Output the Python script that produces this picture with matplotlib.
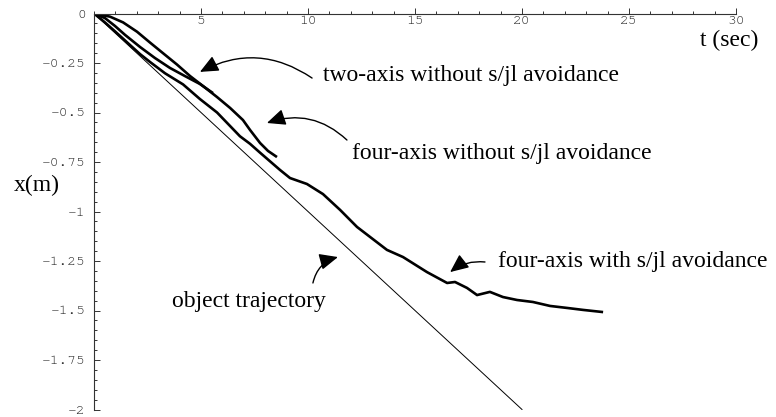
import numpy as np
import matplotlib.pyplot as plt
from matplotlib.ticker import MultipleLocator

plt.rcParams['font.family'] = ['TeX Gyre Cursor', 'Liberation Mono']

# traced data (t in sec, x in m)
t_obj = [0, 20]
x_obj = [0, -2]

t_two = [0, 0.51, 0.98, 1.45, 2.15, 2.85, 3.55, 4.25, 4.95, 5.56]
x_two = [0, -0.023, -0.063, -0.108, -0.169, -0.225, -0.275, -0.316, -0.356, -0.402]

t_four_wo = [0, 0.75, 1.36, 2.01, 2.62, 3.22, 3.88, 4.49, 5.09, 5.75, 6.36,
             6.96, 7.29, 7.76, 8.13, 8.55]
x_four_wo = [0, -0.016, -0.045, -0.092, -0.147, -0.200, -0.258, -0.316, -0.366,
             -0.422, -0.477, -0.538, -0.588, -0.654, -0.694, -0.725]

t_four_w = [0, 0.51, 0.98, 1.59, 2.15, 2.62, 3.32, 4.16, 4.95, 5.75, 6.82,
            7.29, 7.76, 8.69, 9.16, 9.95, 10.70, 11.50, 12.29, 13.69, 14.44,
            15.56, 16.50, 16.87, 17.43, 17.90, 18.50, 19.11, 19.77, 20.51,
            21.31, 22.10, 22.85, 23.79]
x_four_w = [0, -0.045, -0.090, -0.150, -0.205, -0.245, -0.302, -0.358, -0.432,
            -0.500, -0.620, -0.658, -0.703, -0.790, -0.831, -0.861, -0.912,
            -0.992, -1.078, -1.194, -1.230, -1.306, -1.361, -1.356, -1.386,
            -1.422, -1.406, -1.432, -1.447, -1.457, -1.477, -1.487, -1.497,
            -1.508]

yticks = [0, -0.25, -0.5, -0.75, -1, -1.25, -1.5, -1.75, -2]
ylabels = ['0', '-0.25', '-0.5', '-0.75', '-1', '-1.25', '-1.5', '-1.75', '-2']
xticks = [5, 10, 15, 20, 25, 30]
xlabels = ['5', '10', '15', '20', '25', '30']

W, H = 776, 417
fig = plt.figure(figsize=(W / 100, H / 100), dpi=100)
ax = fig.add_axes([94 / W, 1 - 409.5 / H, (736 - 94) / W, 396 / H])
ax.set_xlim(0, 30)
ax.set_ylim(-2, 0)

axcol = '#333333'
ax.plot(t_obj, x_obj, color='black', lw=0.7)
for tt, xx in [(t_two, x_two), (t_four_wo, x_four_wo), (t_four_w, x_four_w)]:
    ax.plot(tt, xx, color='black', lw=1.9, solid_joinstyle='round',
            solid_capstyle='butt')

for s in ['top', 'right']:
    ax.spines[s].set_visible(False)
ax.spines['bottom'].set_position(('data', 0))
ax.spines['left'].set_position(('data', 0))
for s in ['bottom', 'left']:
    ax.spines[s].set_color(axcol)
    ax.spines[s].set_linewidth(0.8)

ax.set_xticks(xticks)
ax.set_xticklabels(xlabels)
ax.set_yticks(yticks)
ax.set_yticklabels(ylabels)
ax.xaxis.set_minor_locator(MultipleLocator(1))
ax.yaxis.set_minor_locator(MultipleLocator(0.05))
ax.tick_params(which='both', direction='in', color=axcol, width=0.7,
               labelcolor='#222222', labelsize=10.5)
ax.tick_params(which='major', length=4)
ax.tick_params(which='minor', length=2.2)
ax.tick_params(axis='x', pad=2)
ax.tick_params(axis='y', pad=6)

serif = 'Liberation Serif'
fs = 17
fig.text(37 / W, 1 - 185 / H, 'x(m)', family=serif, fontsize=fs,
         ha='center', va='center')
fig.text(758 / W, 1 - 40 / H, 't (sec)', family=serif, fontsize=fs,
         ha='right', va='center')

labels = [
    ('two-axis without s/jl avoidance', (10.70, -0.311), (10.19, -0.326), (4.95, -0.295), 0.3),
    ('four-axis without s/jl avoidance', (12.06, -0.705), (11.82, -0.639), (8.08, -0.553), 0.3),
    ('four-axis with s/jl avoidance', (18.88, -1.255), (18.27, -1.255), (16.64, -1.306), 0.2),
    ('object trajectory', (3.64, -1.457), (10.23, -1.361), (11.40, -1.230), -0.3),
]
for txt, pos, tail, tip, rad in labels:
    ax.text(pos[0], pos[1], txt, family=serif, fontsize=fs, ha='left', va='center')
    ax.annotate('', xy=tip, xytext=tail,
                arrowprops=dict(arrowstyle='-|>,head_length=0.45,head_width=0.2',
                                mutation_scale=25, color='black', lw=1.0,
                                shrinkA=0, shrinkB=0,
                                connectionstyle='arc3,rad=%s' % rad))

fig.savefig('out.png', dpi=100)
